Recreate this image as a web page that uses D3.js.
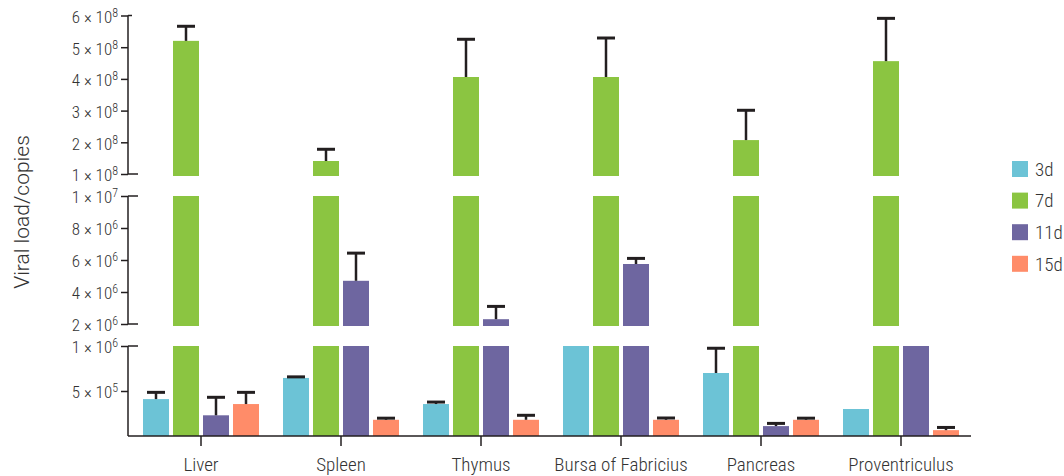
<!DOCTYPE html>
<html>
<head>
<meta charset="utf-8">
<script src="https://cdn.jsdelivr.net/npm/d3@7"></script>
<style>
  html, body { margin: 0; padding: 0; background: #fff; }
  svg { display: block; }
  text { font-family: "Liberation Sans Narrow", "Roboto Condensed", "DejaVu Sans Condensed", sans-serif; fill: #333; font-weight: 300; }
  .ytitle { font-family: Roboto, "Open Sans", sans-serif; font-weight: 300; }
</style>
</head>
<body>
<svg id="chart" width="1064" height="476"></svg>
<script>
// Tissues sampled and days post infection
const categories = ["Liver", "Spleen", "Thymus", "Bursa of Fabricius", "Pancreas", "Proventriculus"];
const series = ["3d", "7d", "11d", "15d"];
const colors = ["#6cc3d6", "#8bc541", "#6e66a0", "#ff8c69"];

// Mean viral load (copies) per tissue, one array per time point
const load3d  = [4.1e5, 6.45e5, 3.55e5, 1.0e6, 7.0e5, 3.0e5];
const load7d  = [5.2e8, 1.41e8, 4.06e8, 4.06e8, 2.07e8, 4.56e8];
const load11d = [2.3e5, 4.7e6, 2.3e6, 5.75e6, 1.1e5, 1.0e6];
const load15d = [3.55e5, 1.8e5, 1.8e5, 1.8e5, 1.8e5, 6.5e4];

// Upper error (SD) per tissue, one array per time point
const err3d  = [7.5e4, 1.2e4, 2.2e4, 0, 2.75e5, 0];
const err7d  = [4.6e7, 3.7e7, 1.19e8, 1.23e8, 9.4e7, 1.35e8];
const err11d = [2.0e5, 1.73e6, 8.0e5, 3.5e5, 3.0e4, 0];
const err15d = [1.3e5, 1.8e4, 5.0e4, 2.0e4, 1.8e4, 3.0e4];

// Tick values for the three pieces of the broken y axis
const ticksLow  = [5e5, 1e6];
const ticksMid  = [2e6, 4e6, 6e6, 8e6, 1e7];
const ticksHigh = [1e8, 2e8, 3e8, 4e8, 5e8, 6e8];

const loads = [load3d, load7d, load11d, load15d];
const errs  = [err3d, err7d, err11d, err15d];

const svg = d3.select("#chart");
const axisX = 128;
const axisColor = "#231f20";

// three linear scales stacked on top of each other
const segments = [
  { scale: d3.scaleLinear().domain([0, 1e6]).range([436, 346]), ticks: ticksLow, floor: 0 },
  { scale: d3.scaleLinear().domain([1.875e6, 1e7]).range([326, 196]), ticks: ticksMid },
  { scale: d3.scaleLinear().domain([0.937e8, 6e8]).range([176, 15.5]), ticks: ticksHigh }
];

const x0 = d3.scaleBand().domain(categories).range([131, 971]).paddingInner(0).paddingOuter(0);
const x1 = d3.scaleBand().domain(series).range([-58, 58]).paddingInner(4 / 30).paddingOuter(0);
const color = d3.scaleOrdinal().domain(series).range(colors);

// bars, clipped into each axis segment
const barsG = svg.append("g");
series.forEach((s, si) => {
  categories.forEach((c, ci) => {
    const v = loads[si][ci];
    const bx = x0(c) + x0.bandwidth() / 2 + x1(s);
    segments.forEach(seg => {
      const [d0, d1] = seg.scale.domain();
      if (v <= d0) return;
      const top = seg.scale(Math.min(v, d1));
      const bottom = seg.scale(d0);
      barsG.append("rect")
        .attr("x", bx).attr("width", x1.bandwidth())
        .attr("y", top).attr("height", bottom - top)
        .attr("fill", color(s));
    });
  });
});

// upper error bars
const errG = svg.append("g").attr("stroke", axisColor);
series.forEach((s, si) => {
  categories.forEach((c, ci) => {
    const v = loads[si][ci], e = errs[si][ci];
    if (!e) return;
    const seg = segments.find(sg => v > sg.scale.domain()[0] && v <= sg.scale.domain()[1]);
    const cx = x0(c) + x0.bandwidth() / 2 + x1(s) + x1.bandwidth() / 2;
    const yTop = seg.scale(v + e);
    const yBar = seg.scale(v);
    errG.append("line").attr("x1", cx).attr("x2", cx).attr("y1", yBar).attr("y2", yTop).attr("stroke-width", 2.5);
    errG.append("line").attr("x1", cx - 9).attr("x2", cx + 9).attr("y1", yTop).attr("y2", yTop).attr("stroke-width", 3);
  });
});

// y axis pieces
function labelTick(sel) {
  sel.each(function (d) {
    const t = d3.select(this);
    const exp = Math.floor(Math.log10(d) + 1e-9);
    const mant = Math.round(d / Math.pow(10, exp));
    t.text(null);
    t.append("tspan").text(mant + " \u00d7 10");
    t.append("tspan").attr("dy", "-0.5em").attr("font-size", "12px").text(exp);
  });
}

segments.forEach((seg, i) => {
  const g = svg.append("g").attr("transform", `translate(${axisX},0)`);
  const axis = d3.axisLeft(seg.scale).tickValues(seg.ticks).tickSize(7).tickSizeOuter(0).tickFormat(d => d);
  g.call(axis);
  g.select(".domain").remove();
  g.selectAll(".tick line").attr("stroke", axisColor).attr("stroke-width", 1.5);
  g.selectAll(".tick text").attr("x", -10).attr("dy", "0.4em").attr("font-size", "17px").attr("font-family", null).call(labelTick);
  const lo = seg.floor !== undefined ? seg.scale(seg.floor) : seg.scale(d3.min(seg.ticks));
  const hi = seg.scale(d3.max(seg.ticks));
  g.append("line").attr("y1", lo).attr("y2", hi).attr("stroke", axisColor).attr("stroke-width", 1.5);
  // break marks at the ends of each piece
  const ends = [];
  if (i > 0) ends.push(seg.scale(d3.min(seg.ticks)));
  if (i < segments.length - 1) ends.push(hi);
  ends.forEach(y => g.append("line").attr("x1", 0).attr("x2", 10).attr("y1", y).attr("y2", y)
    .attr("stroke", axisColor).attr("stroke-width", 1.5));
  if (i === segments.length - 1) g.append("line").attr("x1", 0).attr("x2", 4).attr("y1", hi).attr("y2", hi)
    .attr("stroke", axisColor).attr("stroke-width", 1.5);
});

// x axis
const xg = svg.append("g").attr("transform", `translate(0,436)`);
xg.append("line").attr("x1", axisX).attr("x2", 971).attr("stroke", axisColor).attr("stroke-width", 1.5);
xg.selectAll(".xt").data(categories).join("line")
  .attr("x1", d => x0(d) + x0.bandwidth() / 2).attr("x2", d => x0(d) + x0.bandwidth() / 2)
  .attr("y1", 0).attr("y2", 10).attr("stroke", axisColor).attr("stroke-width", 1.5);
xg.selectAll(".xl").data(categories).join("text")
  .attr("x", d => x0(d) + x0.bandwidth() / 2).attr("y", 35)
  .attr("text-anchor", "middle").attr("font-size", "19px").text(d => d);

// y axis title
svg.append("text").attr("class", "ytitle")
  .attr("transform", "translate(29,212) rotate(-90)")
  .attr("text-anchor", "middle").attr("font-size", "21px")
  .text("Viral load/copies");

// legend
const lg = svg.append("g").attr("transform", "translate(1012,161)");
series.forEach((s, i) => {
  const row = lg.append("g").attr("transform", `translate(0,${i * 31.6})`);
  row.append("rect").attr("width", 16).attr("height", 16).attr("fill", color(s));
  row.append("text").attr("x", 23).attr("y", 8).attr("dy", "0.36em").attr("font-size", "19px").text(s);
});
</script>
</body>
</html>
